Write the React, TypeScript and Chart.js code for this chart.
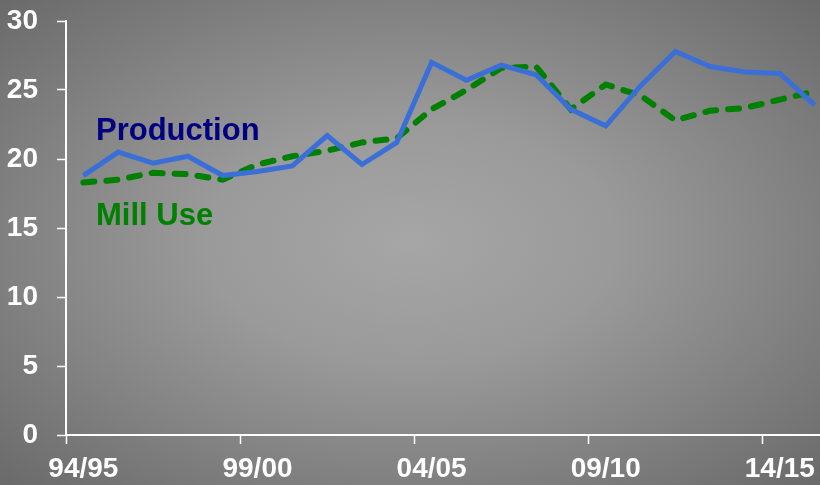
import React, { useEffect, useRef } from "react";
import { Chart, registerables } from "chart.js";

Chart.register(...registerables);

const seasons = [
  "94/95", "95/96", "96/97", "97/98", "98/99", "99/00", "00/01", "01/02",
  "02/03", "03/04", "04/05", "05/06", "06/07", "07/08", "08/09", "09/10",
  "10/11", "11/12", "12/13", "13/14", "14/15", "15/16",
];

const production = [
  18.8, 20.5, 19.7, 20.2, 18.8, 19.1, 19.5, 21.7, 19.6, 21.2, 27.0,
  25.7, 26.8, 26.1, 23.6, 22.4, 25.3, 27.8, 26.7, 26.3, 26.2, 23.9,
];

const millUse = [
  18.3, 18.5, 19.0, 18.9, 18.5, 19.6, 20.2, 20.6, 21.2, 21.5, 23.6,
  25.0, 26.6, 26.7, 23.6, 25.4, 24.6, 22.8, 23.5, 23.7, 24.3, 24.9,
];

const yTicks = [0, 5, 10, 15, 20, 25, 30];

const FONT = "'Liberation Sans', Arial, Helvetica, sans-serif";

const labelPlugin = {
  id: "seriesLabels",
  afterDraw(chart: any) {
    const ctx = chart.ctx;
    ctx.save();
    ctx.font = `bold 31px ${FONT}`;
    ctx.textBaseline = "alphabetic";
    ctx.textAlign = "left";
    ctx.fillStyle = "#000080";
    ctx.fillText("Production", 96, 140);
    ctx.fillStyle = "#008000";
    ctx.fillText("Mill Use", 96, 225);
    ctx.restore();
  },
};

export default function App() {
  const ref = useRef<HTMLCanvasElement | null>(null);

  useEffect(() => {
    if (!ref.current) return;
    const chart = new Chart(ref.current, {
      type: "line",
      data: {
        labels: seasons,
        datasets: [
          {
            label: "Production",
            data: production,
            borderColor: "#3b6fd8",
            borderWidth: 5,
            pointRadius: 0,
            tension: 0,
            fill: false,
          },
          {
            label: "Mill Use",
            data: millUse,
            borderColor: "#008000",
            borderWidth: 6,
            borderDash: [11, 12],
            borderCapStyle: "round",
            pointRadius: 0,
            tension: 0,
            fill: false,
          },
        ],
      },
      options: {
        responsive: false,
        animation: false,
        layout: { padding: { top: 21, right: 0, left: 0, bottom: 0 } },
        plugins: {
          legend: { display: false },
          tooltip: { enabled: false },
        },
        scales: {
          x: {
            type: "category",
            offset: true,
            grid: {
              offset: true,
              drawOnChartArea: false,
              drawTicks: true,
              tickLength: 9,
              tickWidth: 1.5,
              tickColor: (c: any) => (c.index % 5 === 0 ? "#ffffff" : "rgba(0,0,0,0)"),
            },
            border: { color: "#ffffff", width: 2 },
            ticks: {
              autoSkip: false,
              maxRotation: 0,
              minRotation: 0,
              padding: 8,
              color: "#ffffff",
              font: { family: FONT, size: 28, weight: "bold" },
              callback: (_v: any, i: number) => (i % 5 === 0 ? seasons[i] : ""),
            },
            afterFit: (s: any) => {
              s.height = 50;
              s.paddingLeft = 0;
              s.paddingRight = 0;
            },
          },
          y: {
            min: 0,
            max: 30,
            afterBuildTicks: (s: any) => {
              s.ticks = yTicks.map((v) => ({ value: v }));
            },
            grid: {
              drawOnChartArea: false,
              drawTicks: true,
              tickLength: 9,
              tickWidth: 1.5,
              color: "#ffffff",
            },
            border: { color: "#ffffff", width: 2 },
            ticks: {
              padding: 19,
              color: "#ffffff",
              font: { family: FONT, size: 28, weight: "bold" },
            },
            afterFit: (s: any) => {
              s.width = 66;
              s.paddingTop = 0;
              s.paddingBottom = 0;
            },
          },
        },
      },
      plugins: [labelPlugin],
    });
    return () => chart.destroy();
  }, []);

  return (
    <div
      style={{
        position: "fixed",
        left: 0,
        top: 0,
        width: 820,
        height: 485,
        overflow: "hidden",
        background:
          "radial-gradient(ellipse farthest-corner at 50% 50%, #a6a6a6 0%, #9a9a9a 35%, #6a6a6a 100%)",
      }}
    >
      <canvas ref={ref} width={832} height={485} style={{ display: "block" }} />
    </div>
  );
}
